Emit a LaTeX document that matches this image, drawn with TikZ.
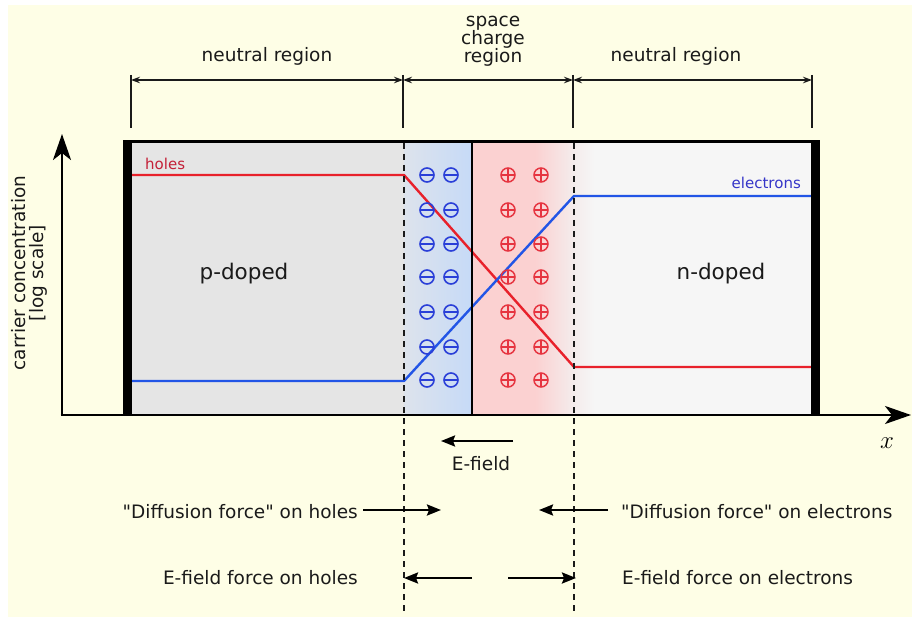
\documentclass[tikz,border=0pt]{standalone}
\usepackage{fontspec}
\setmainfont{DejaVu Sans}[Ligatures=TeXOff]
\usetikzlibrary{arrows.meta}
\definecolor{bgc}{HTML}{FEFEE6}
\definecolor{pgray}{HTML}{E5E5E5}
\definecolor{ngray}{HTML}{F6F6F6}
\definecolor{blueL}{HTML}{DDE3EC}
\definecolor{blueR}{HTML}{C6DAF7}
\definecolor{pinkA}{HTML}{FBD1D1}
\definecolor{pinkB}{HTML}{F4ECEC}
\definecolor{holered}{HTML}{E8212B}
\definecolor{elecblue}{HTML}{2255E6}
\definecolor{negblue}{HTML}{2A3FD8}
\definecolor{posred}{HTML}{E63440}
\definecolor{holetxt}{HTML}{C42038}
\definecolor{electxt}{HTML}{3535C8}
\definecolor{ink}{HTML}{1A1A1A}
\begin{document}
\begin{tikzpicture}[x=1pt,y=-1pt,
  txt/.style={font=\fontsize{18.5}{18}\selectfont, inner sep=0pt, text=ink},
  bigtxt/.style={font=\fontsize{21.5}{22}\selectfont, inner sep=0pt, text=ink},
  smalltxt/.style={font=\fontsize{15}{15}\selectfont, inner sep=0pt},
  dimline/.style={line width=1.2pt, draw=ink, {Stealth[length=9pt,width=6.5pt]}-{Stealth[length=9pt,width=6.5pt]}},
  extline/.style={line width=1.2pt, draw=ink},
  dashline/.style={line width=1.2pt, draw=ink, dash pattern=on 6pt off 5pt},
  forcearrow/.style={line width=2.4pt, draw=black, -{Stealth[length=14pt,width=11pt,inset=2pt]}},
  axisarrow/.style={line width=2.6pt, draw=black, -{Stealth[length=26pt,width=18pt,inset=7pt]}},
  carrier/.style={line width=2.4pt, line join=round},
  negc/.style={draw=negblue, line width=1.6pt},
  posc/.style={draw=posred, line width=1.5pt},
]
\useasboundingbox (0,0) rectangle (912,617);
\fill[white] (0,0) rectangle (912,617);
\fill[bgc] (8,5) rectangle (912,617);

% regions
\fill[pgray] (132,142) rectangle (404,415);
\shade[left color=blueL, right color=blueR] (404,142) rectangle (472,415);
\fill[pinkA] (472,142) rectangle (535,415);
\shade[left color=pinkA, right color=pinkB] (535,142) rectangle (574,415);
\fill[ngray] (574,142) rectangle (812,415);
\shade[left color=pinkB, right color=ngray] (574,142) rectangle (595,415);

% carrier concentrations
\coordinate (h0) at (132,175); \coordinate (h1) at (404,175);
\coordinate (h2) at (574,367); \coordinate (h3) at (812,367);
\coordinate (e0) at (132,381); \coordinate (e1) at (404,381);
\coordinate (e2) at (574,196); \coordinate (e3) at (812,196);
\draw[carrier, holered] (h0) -- (h1) -- (h2) -- (h3);
\draw[carrier, elecblue] (e0) -- (e1) -- (e2) -- (e3);

% fixed charges
\foreach \yy in {175,210,244,277,312,347,380} {
  \foreach \xx in {427,451} {
    \draw[negc] (\xx,\yy) circle[radius=7];
    \draw[negc] (\xx-6,\yy) -- (\xx+6,\yy);
  }
  \foreach \xx in {508,541} {
    \draw[posc] (\xx,\yy) circle[radius=7];
    \draw[posc] (\xx-6.5,\yy) -- (\xx+6.5,\yy);
    \draw[posc] (\xx,\yy-6.5) -- (\xx,\yy+6.5);
  }
}

% box
\draw[line width=3pt] (123,142) -- (820,142);
\fill[black] (123,141) rectangle (132,416);
\fill[black] (811,141) rectangle (820,416);
\draw[line width=2pt] (472,142) -- (472,415);

% dashed boundaries
\coordinate (d1t) at (404,143); \coordinate (d1b) at (404,614);
\coordinate (d2t) at (574,143); \coordinate (d2b) at (574,614);
\draw[dashline] (d1t) -- (d1b);
\draw[dashline] (d2t) -- (d2b);

% dimension lines
\coordinate (x1) at (131,80); \coordinate (x2) at (403,80);
\coordinate (x3) at (573,80); \coordinate (x4) at (812,80);
\draw[extline] (131,75) -- (131,128);
\draw[extline] (403,75) -- (403,128);
\draw[extline] (573,75) -- (573,128);
\draw[extline] (812,75) -- (812,128);
\draw[dimline] (x1) -- (x2);
\draw[dimline] (x2) -- (x3);
\draw[dimline] (x3) -- (x4);
\node[txt, anchor=base] (nl) at (267,62) {neutral region};
\node[txt, anchor=base] (sc1) at (493,27) {space};
\node[txt, anchor=base] (sc2) at (493,45) {charge};
\node[txt, anchor=base] (sc3) at (493,63) {region};
\node[txt, anchor=base] (nr) at (676,62) {neutral region};

% axes
\coordinate (o) at (62,415);
\coordinate (ytop) at (62,134);
\coordinate (xend) at (911,415);
\draw[axisarrow] (o) -- (ytop);
\draw[axisarrow] (60.7,415) -- (xend);
\node[font=\fontsize{23}{23}\selectfont, inner sep=0pt] (xl) at (887,443) {$x$};
\node[txt, rotate=90, anchor=base] (yl1) at (25,273) {carrier concentration};
\node[txt, rotate=90, anchor=base] (yl2) at (43,273) {[log scale]};

% region labels
\node[bigtxt, anchor=base] (pd) at (244,280) {p-doped};
\node[bigtxt, anchor=base] (nd) at (721,280) {n-doped};
\node[smalltxt, text=holetxt, anchor=base west] (hl) at (145,170) {holes};
\node[smalltxt, text=electxt, anchor=base east] (el) at (801,189) {electrons};

% E-field
\coordinate (ef1) at (513,441); \coordinate (ef2) at (441,441);
\draw[forcearrow] (ef1) -- (ef2);
\node[txt, anchor=base] (eft) at (481,470) {E-field};

% forces
\node[txt, anchor=base east] (dh) at (358,518) {"Diffusion force" on holes};
\node[txt, anchor=base west] (de) at (621,518) {"Diffusion force" on electrons};
\node[txt, anchor=base east] (fh) at (358,584) {E-field force on holes};
\node[txt, anchor=base west] (fe) at (622,584) {E-field force on electrons};
\coordinate (a1) at (363,510); \coordinate (a2) at (441,510);
\coordinate (a3) at (608,510); \coordinate (a4) at (539,510);
\coordinate (a5) at (472,578); \coordinate (a6) at (404,578);
\coordinate (a7) at (508,578); \coordinate (a8) at (576,578);
\draw[forcearrow] (a1) -- (a2);
\draw[forcearrow] (a3) -- (a4);
\draw[forcearrow] (a5) -- (a6);
\draw[forcearrow] (a7) -- (a8);
\end{tikzpicture}
\end{document}
